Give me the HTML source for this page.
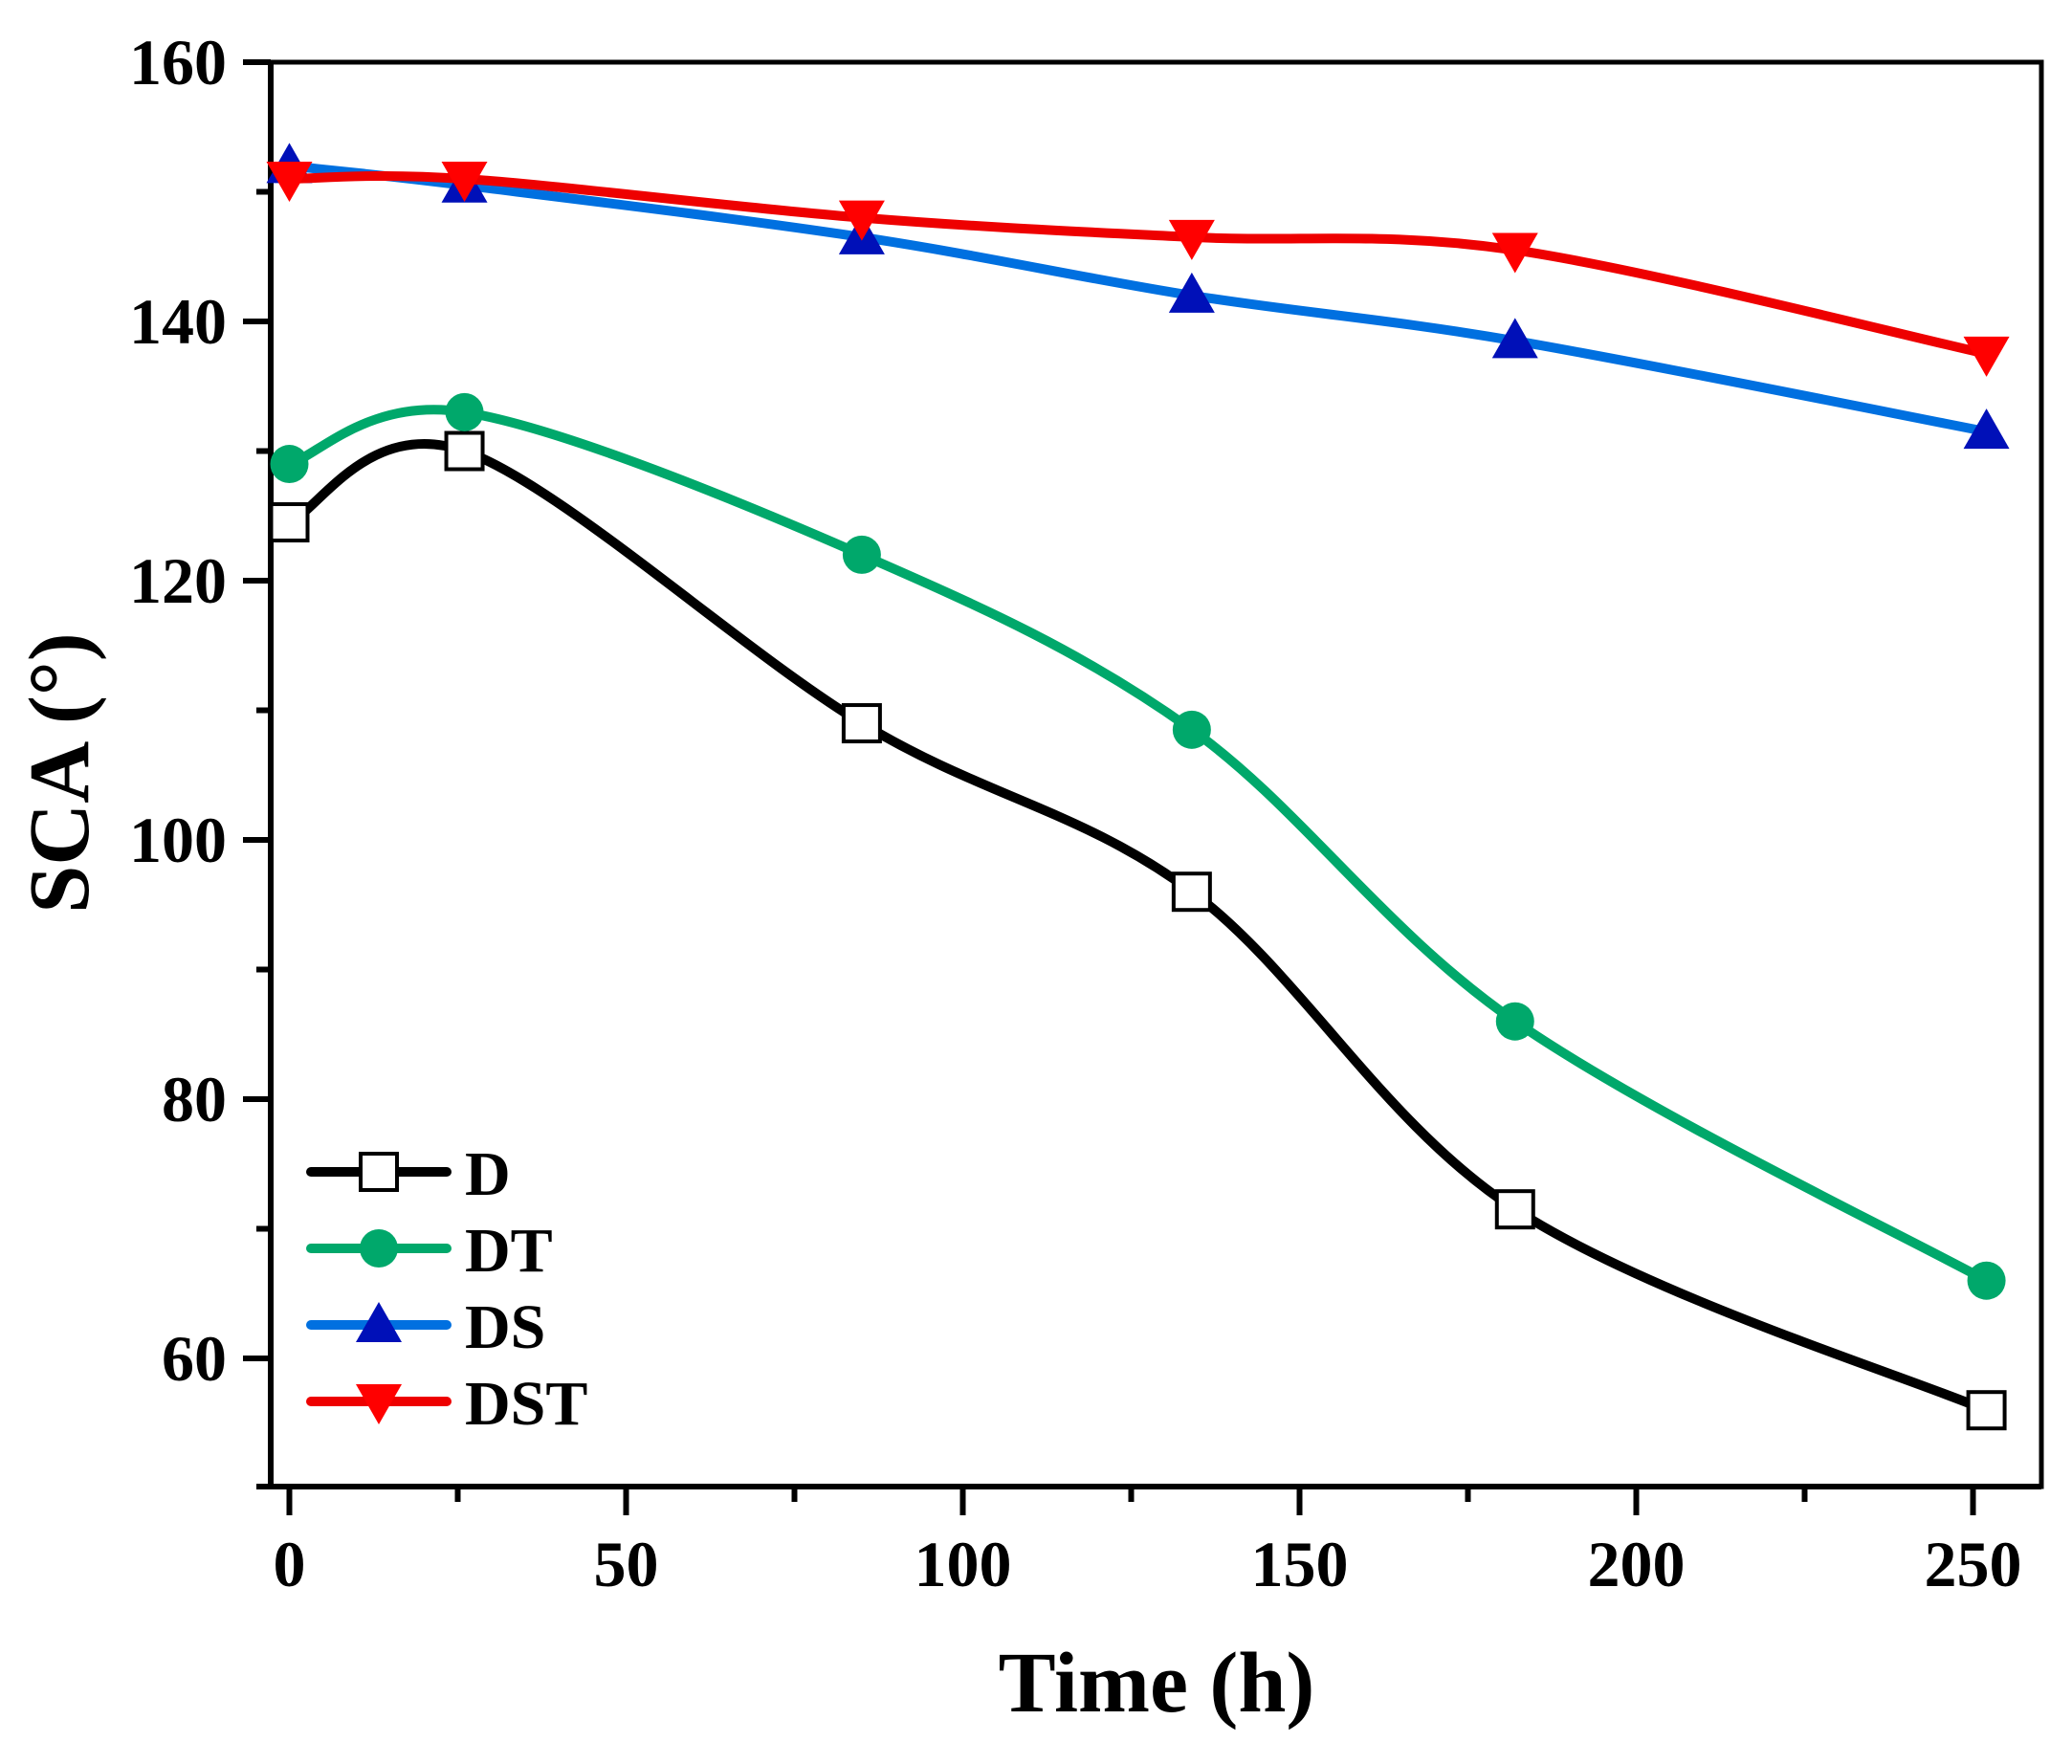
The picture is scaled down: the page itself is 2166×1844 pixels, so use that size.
<!DOCTYPE html>
<html><head><meta charset="utf-8"><style>
html,body{margin:0;padding:0;background:#fff}
svg{display:block}
text{font-family:"Liberation Serif",serif;font-weight:bold;fill:#000}
</style></head><body>
<svg id="s" width="2166" height="1844" viewBox="0 0 2166 1844" xmlns="http://www.w3.org/2000/svg">
<rect x="283" y="65" width="1851" height="1489" fill="none" stroke="#000" stroke-width="5"/>
<line x1="268" y1="1554" x2="2134" y2="1554" stroke="#000" stroke-width="6"/>
<line x1="283" y1="65" x2="283" y2="1554" stroke="#000" stroke-width="6"/>
<g id="ticks" stroke="#000" stroke-width="6"></g>
<g id="labels" font-size="68"></g>
<g id="series"></g>
<text x="1209" y="1789" font-size="90" text-anchor="middle">Time (h)</text>
<text transform="translate(92,808) rotate(-90)" font-size="90" text-anchor="middle">SCA (°)</text>
<g id="legend"></g>
</svg>
<script>
const NS="http://www.w3.org/2000/svg";
const X=t=>302.5+7.04*t, Y=v=>65+(160-v)*13.55;
function el(tag,a,p,txt){const e=document.createElementNS(NS,tag);for(const k in a)e.setAttribute(k,a[k]);if(txt!==undefined)e.textContent=txt;p.appendChild(e);return e;}
const tk=document.getElementById('ticks'),lb=document.getElementById('labels');
for(let v=60;v<=160;v+=10){const y=Y(v),maj=v%20==0;el('line',{x1:maj?254:268,y1:y,x2:283,y2:y},tk);
 if(maj)el('text',{x:237,y:y+23,'text-anchor':'end'},lb,v);}
for(let t=0;t<=250;t+=25){const x=X(t),maj=t%50==0;el('line',{x1:x,y1:1554,x2:x,y2:maj?1584:1570},tk);
 if(maj)el('text',{x:x,y:1658,'text-anchor':'middle'},lb,t);}
const T=[0,26,85,134,182,252];
const S=[
 {c:'#000',m:'sq',d:[124.5,130,109,96,71.5,56]},
 {c:'#00a86b',m:'ci',mc:'#00a86b',d:[129,133,122,108.5,86,66]},
 {c:'#0070e0',m:'up',mc:'#0010b8',d:[152,150.5,146.5,142,138.5,131.5]},
 {c:'#ee0000',m:'dn',mc:'#ff0000',d:[151,151,148,146.5,145.5,137.5]}];
const sg=document.getElementById('series');
function marker(s,x,y,g){const r=22;
 if(s.m=='sq')el('rect',{x:x-r+3,y:y-r+3,width:2*r-6,height:2*r-6,fill:'#fff',stroke:'#000','stroke-width':4},g);
 if(s.m=='ci')el('circle',{cx:x,cy:y,r:r-2,fill:s.mc},g);
 if(s.m=='up')el('polygon',{points:`${x},${y-24} ${x-24},${y+18} ${x+24},${y+18}`,fill:s.mc},g);
 if(s.m=='dn')el('polygon',{points:`${x},${y+24} ${x-24},${y-18} ${x+24},${y-18}`,fill:s.mc},g);}
S.forEach(s=>{const P=T.map((t,i)=>[X(t),Y(s.d[i])]);
 let d=`M${P[0][0]},${P[0][1]}`;
 for(let i=0;i<P.length-1;i++){const p0=P[Math.max(0,i-1)],p1=P[i],p2=P[i+1],p3=P[Math.min(P.length-1,i+2)];
  const c1=[p1[0]+(p2[0]-p0[0])/6,p1[1]+(p2[1]-p0[1])/6],c2=[p2[0]-(p3[0]-p1[0])/6,p2[1]-(p3[1]-p1[1])/6];
  d+=` C${c1[0]},${c1[1]} ${c2[0]},${c2[1]} ${p2[0]},${p2[1]}`;}
 el('path',{d:d,fill:'none',stroke:s.c,'stroke-width':10,'stroke-linecap':'round'},sg);
 P.forEach(p=>marker(s,p[0],p[1],sg));});
const lg=document.getElementById('legend');const names=['D','DT','DS','DST'];
S.forEach((s,i)=>{const y=1225+i*80;
 el('line',{x1:325,y1:y,x2:467,y2:y,stroke:s.c,'stroke-width':10,'stroke-linecap':'round'},lg);
 marker(s,396,y,lg);
 el('text',{x:486,y:y+24,'font-size':66},lg,names[i]);});
</script>
</body></html>
